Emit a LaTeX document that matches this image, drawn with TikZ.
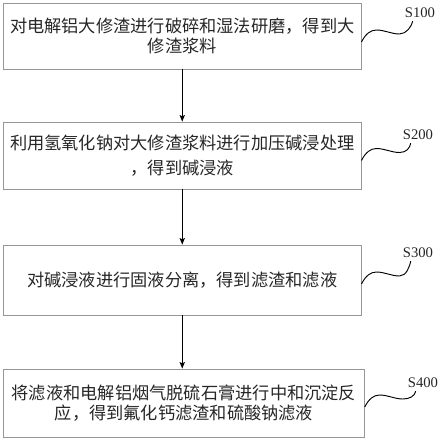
\documentclass[tikz,border=0pt]{standalone}
\usepackage{fontspec}
\setmainfont{Liberation Serif}
\newfontfamily\cjk{Noto Sans CJK SC}
\usetikzlibrary{arrows.meta,positioning,calc}
\definecolor{boxgray}{RGB}{150,150,150}

\begin{document}
\begin{tikzpicture}[x=0.03cm, y=-0.03cm,
		stepbox/.style={draw=boxgray, line width=0.8pt, minimum width=10.725cm, inner sep=0pt, align=center, font=\cjk\fontsize{14.7}{17}\selectfont, text=black!85},
		steplabel/.style={inner sep=0pt, font=\fontsize{12.5}{14}\selectfont, text=black!85},
		flow/.style={-{Stealth[length=5.5pt, width=4.5pt, inset=1pt]}, line width=0.7pt},
		wave/.style={line width=0.8pt}]
				\useasboundingbox (0,0) rectangle (441,443);

				% Step S100
				\node[stepbox, minimum height=1.98cm] (s1) at (182.25,36) {对电解铝大修渣进行破碎和湿法研磨，得到大\\修渣浆料};
				\node[steplabel] (l1) at (420,13) {S100};
				\coordinate (w1) at ($(s1.east)+(0,6)$);
				\draw[wave] (w1) .. controls +(4,-8) and +(-6,0) .. ++(15,-12) .. controls +(8,0) and +(-8,0) .. ++(23,4) .. controls +(7,0) and +(-1,5) .. ($(l1.south west)+(8,3)$);

				% Step S200
				\node[stepbox, minimum height=2.01cm, font=\cjk\fontsize{14.7}{21}\selectfont] (s2) at (182.25,155.5) {利用氢氧化钠对大修渣浆料进行加压碱浸处理\\，得到碱浸液};
				\node[steplabel] (l2) at (418,135) {S200};
				\coordinate (w2) at ($(s2.east)+(0,5)$);
				\draw[wave] (w2) .. controls +(4,-8) and +(-6,0) .. ++(15,-12) .. controls +(8,0) and +(-8,0) .. ++(23,4) .. controls +(7,0) and +(-1,5) .. ($(l2.south west)+(8,3)$);

				% Step S300
				\node[stepbox, minimum height=2.1cm] (s3) at (182.25,280) {对碱浸液进行固液分离，得到滤渣和滤液};
				\node[steplabel] (l3) at (418,253) {S300};
				\coordinate (w3) at ($(s3.east)+(0,4)$);
				\draw[wave] (w3) .. controls +(4,-8) and +(-6,0) .. ++(15,-12) .. controls +(8,0) and +(-8,0) .. ++(23,4) .. controls +(7,0) and +(-1,5) .. ($(l3.south west)+(8,3)$);

				% Step S400
				\node[stepbox, minimum height=2.04cm, minimum width=10.815cm] (s4) at (184,403) {将滤液和电解铝烟气脱硫石膏进行中和沉淀反\\应，得到氟化钙滤渣和硫酸钠滤液};
				\node[steplabel] (l4) at (423,383) {S400};
				\coordinate (w4) at ($(s4.east)+(0,4)$);
				\draw[wave] (w4) .. controls +(4,-8) and +(-6,0) .. ++(15,-12) .. controls +(8,0) and +(-8,0) .. ++(23,4) .. controls +(7,0) and +(-1,5) .. ($(l4.south west)+(8,3)$);

				% Arrows between steps
				\draw[flow] (s1.south) -- (s2.north);
				\draw[flow] (s2.south) -- (s3.north);
				\draw[flow] (s3.south) -- (s4.north -| s3.south);
			\end{tikzpicture}
\end{document}
